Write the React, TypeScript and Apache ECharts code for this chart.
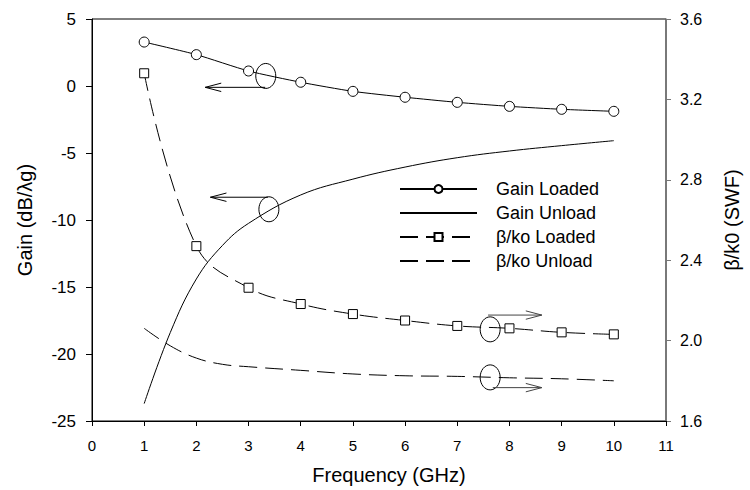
import React, { useEffect, useRef } from "react";
import * as echarts from "echarts";

const freq = [1, 2, 3, 4, 5, 6, 7, 8, 9, 10];
const gainLoaded = [3.28, 2.34, 1.12, 0.28, -0.4, -0.84, -1.22, -1.52, -1.74, -1.89];
const unloadFreq = [1, 1.5, 2, 2.5, 3, 4, 5, 6, 7, 8, 9, 10];
const gainUnload = [-23.7, -18.4, -14.4, -11.9, -10.25, -8.13, -6.95, -6.05, -5.35, -4.85, -4.45, -4.08];
const betaLoaded = [3.33, 2.47, 2.263, 2.182, 2.132, 2.1, 2.073, 2.061, 2.041, 2.031];
const betaUnload = [2.061, 1.974, 1.913, 1.882, 1.87, 1.852, 1.834, 1.825, 1.822, 1.815, 1.81, 1.8];

const seriesNames = ["Gain Loaded", "Gain Unload", "β/ko Loaded", "β/ko Unload"];

// annotation marks (ellipse + arrow) in data coordinates of a series' axes
const annotations = [
  { series: 0, ex: 3.33, ey: 0.75, ay: -0.1, ax0: 3.32, ax1: 2.17, color: "#000" },
  { series: 1, ex: 3.39, ey: -9.2, ay: -8.3, ax0: 3.37, ax1: 2.27, color: "#000" },
  { series: 2, ex: 7.63, ey: 2.056, ay: 2.127, ax0: 7.59, ax1: 8.62, color: "#444" },
  { series: 3, ex: 7.63, ey: 1.817, ay: 1.766, ax0: 7.68, ax1: 8.62, color: "#444" },
];

const FONT = "'Liberation Sans', Arial, sans-serif";

export default function App() {
  const ref = useRef<HTMLDivElement>(null);
  useEffect(() => {
    if (!ref.current) return;
    const chart = echarts.init(ref.current, null, { renderer: "svg" });
    const pair = (xs: number[], ys: number[]) => xs.map((x, i) => [x, ys[i]]);
    const option: any = {
      animation: false,
      textStyle: { fontFamily: FONT, color: "#000" },
      grid: {
        left: 92,
        right: 79,
        top: 19,
        bottom: 69,
        show: true,
        borderColor: "#000",
        borderWidth: 1,
      },
      legend: {
        orient: "vertical",
        left: 399,
        top: 180,
        padding: 0,
        itemWidth: 77,
        itemHeight: 10,
        itemGap: 6,
        data: seriesNames,
        textStyle: { fontFamily: FONT, fontSize: 18, color: "#000", padding: [0, 0, 0, 14] },
        inactiveColor: "#000",
      },
      xAxis: {
        type: "value",
        min: 0,
        max: 11,
        interval: 1,
        name: "Frequency (GHz)",
        nameLocation: "middle",
        nameGap: 44,
        nameTextStyle: { fontFamily: FONT, fontSize: 20, color: "#000", padding: [0, 0, 0, 20] },
        axisLine: { show: true, onZero: false, lineStyle: { color: "#000", width: 1 } },
        axisTick: { show: true, inside: false, length: 5, lineStyle: { color: "#000" } },
        axisLabel: { fontFamily: FONT, fontSize: 15, color: "#000", margin: 17 },
        splitLine: { show: false },
      },
      yAxis: [
        {
          type: "value",
          position: "left",
          min: -25,
          max: 5,
          interval: 5,
          name: "Gain (dB/λg)",
          nameLocation: "middle",
          nameRotate: 90,
          nameGap: 57,
          nameTextStyle: { fontFamily: FONT, fontSize: 20, color: "#000" },
          axisLine: { show: true, onZero: false, lineStyle: { color: "#000", width: 1 } },
          axisTick: { show: true, inside: false, length: 6, lineStyle: { color: "#000" } },
          axisLabel: { fontFamily: FONT, fontSize: 17, color: "#000", margin: 16 },
          splitLine: { show: false },
        },
        {
          type: "value",
          position: "right",
          min: 1.6,
          max: 3.6,
          interval: 0.4,
          name: "β/k0 (SWF)",
          nameLocation: "middle",
          nameRotate: 90,
          nameGap: 56,
          nameTextStyle: { fontFamily: FONT, fontSize: 20, color: "#000" },
          axisLine: { show: true, onZero: false, lineStyle: { color: "#777", width: 1.5 } },
          axisTick: { show: true, inside: false, length: 5, lineStyle: { color: "#777" } },
          axisLabel: {
            fontFamily: FONT,
            fontSize: 16,
            color: "#000",
            margin: 14,
            formatter: (v: number) => v.toFixed(1),
          },
          splitLine: { show: false },
        },
      ],
      series: [
        {
          name: seriesNames[0],
          type: "line",
          yAxisIndex: 0,
          data: pair(freq, gainLoaded),
          smooth: 0.2,
          symbol: "circle",
          symbolSize: 10,
          lineStyle: { color: "#000", width: 1 },
          itemStyle: { color: "#fff", borderColor: "#000", borderWidth: 1 },
          z: 3,
        },
        {
          name: seriesNames[1],
          type: "line",
          yAxisIndex: 0,
          data: pair(unloadFreq, gainUnload),
          smooth: 0.4,
          showSymbol: false,
          symbol: "none",
          symbolSize: 0,
          lineStyle: { color: "#000", width: 1 },
          itemStyle: { color: "#000", opacity: 0 },
        },
        {
          name: seriesNames[2],
          type: "line",
          yAxisIndex: 1,
          data: pair(freq, betaLoaded),
          smooth: 0.4,
          symbol: "rect",
          symbolSize: 9,
          lineStyle: { color: "#000", width: 1, type: [18, 8] },
          itemStyle: { color: "#fff", borderColor: "#000", borderWidth: 1 },
          z: 3,
        },
        {
          name: seriesNames[3],
          type: "line",
          yAxisIndex: 1,
          data: pair(unloadFreq, betaUnload),
          smooth: 0.4,
          showSymbol: false,
          symbol: "none",
          symbolSize: 0,
          lineStyle: { color: "#000", width: 1, type: [18, 8] },
          itemStyle: { color: "#000", opacity: 0 },
        },
      ],
    };
    chart.setOption(option);

    const graphics: any[] = [];
    annotations.forEach((a) => {
      const c = chart.convertToPixel({ seriesIndex: a.series }, [a.ex, a.ey]) as number[];
      const p0 = chart.convertToPixel({ seriesIndex: a.series }, [a.ax0, a.ay]) as number[];
      const p1 = chart.convertToPixel({ seriesIndex: a.series }, [a.ax1, a.ay]) as number[];
      const dir = p1[0] > p0[0] ? 1 : -1;
      graphics.push({
        type: "ellipse",
        shape: { cx: c[0], cy: c[1], rx: 10, ry: 12.5 },
        style: { fill: "none", stroke: "#000", lineWidth: 1 },
        z: 10,
      });
      graphics.push({
        type: "line",
        shape: { x1: p0[0], y1: p0[1], x2: p1[0], y2: p1[1] },
        style: { stroke: a.color, lineWidth: 1 },
        z: 10,
      });
      graphics.push({
        type: "polyline",
        shape: {
          points: [
            [p1[0] - dir * 16, p1[1] - 4.2],
            [p1[0], p1[1]],
            [p1[0] - dir * 16, p1[1] + 4.2],
          ],
        },
        style: { stroke: a.color, lineWidth: 1, fill: "none" },
        z: 10,
      });
    });
    chart.setOption({ graphic: graphics });

    return () => chart.dispose();
  }, []);
  return (
    <div
      ref={ref}
      style={{ position: "fixed", left: 0, top: 0, width: 750, height: 490, background: "#fff" }}
    />
  );
}
